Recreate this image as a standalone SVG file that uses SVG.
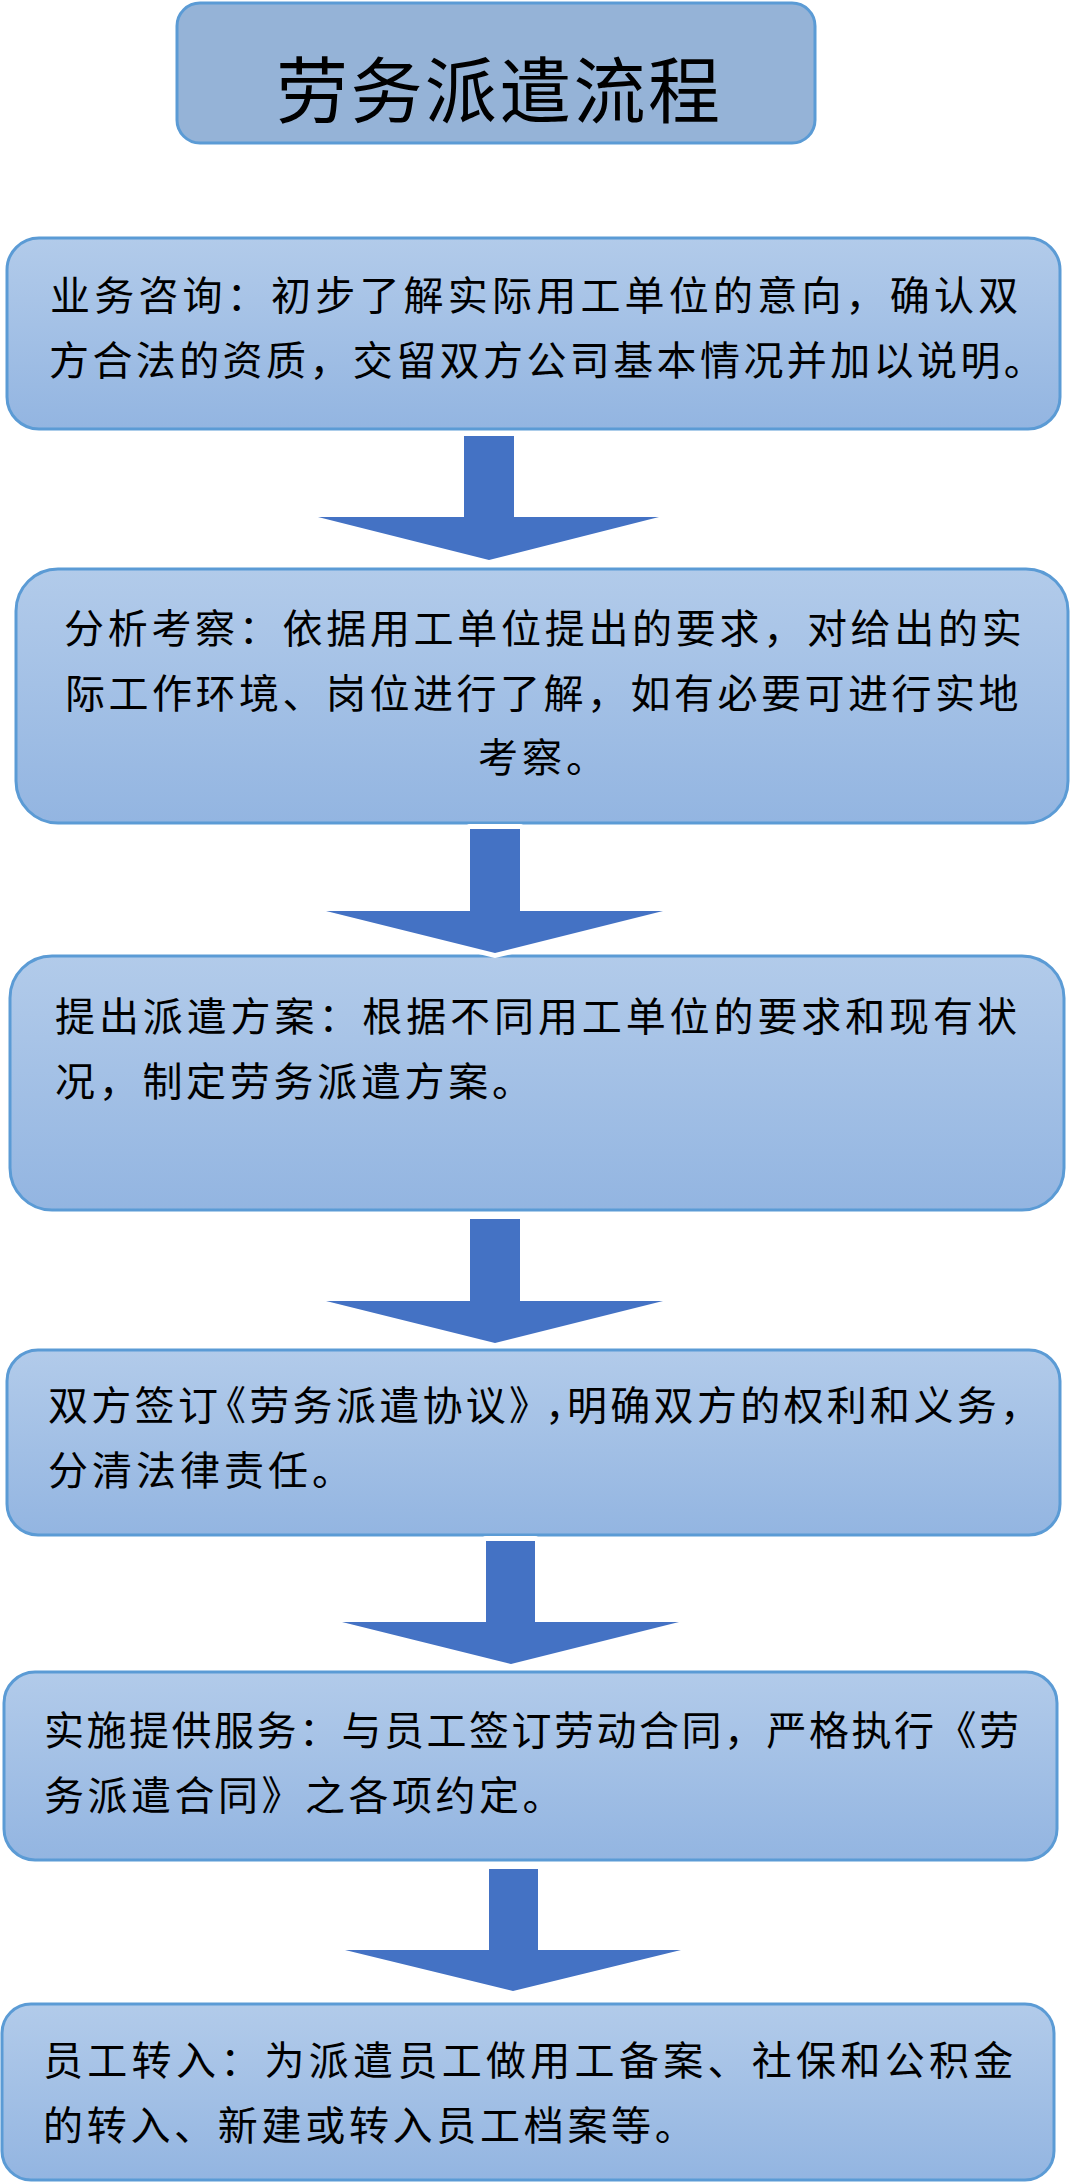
<svg xmlns="http://www.w3.org/2000/svg" width="1071" height="2183" viewBox="0 0 1071 2183">
<defs>
<linearGradient id="g" x1="0" y1="0" x2="0" y2="1">
<stop offset="0" stop-color="#B2CBEA"/>
<stop offset="1" stop-color="#93B5E1"/>
</linearGradient>
<style>
.box{fill:url(#g);stroke:#5B9BD5;stroke-width:3}
.title{fill:#95B3D7;stroke:#5B9BD5;stroke-width:3}
.t{font-family:"Noto Sans CJK SC","Noto Sans CJK JP",sans-serif;font-size:40px;fill:#000;text-spacing-trim:space-all}
.tt{font-family:"Noto Sans CJK SC","Noto Sans CJK JP",sans-serif;font-size:72px;fill:#000}
.arr{fill:#4472C4;stroke:#FFFFFF;stroke-width:10;stroke-linejoin:round;paint-order:stroke}
</style>
</defs>
<rect width="1071" height="2183" fill="#FFFFFF"/>
<g id="title">
<rect class="title" x="177" y="3" width="638" height="140" rx="23"/>
<text class="tt" x="276" y="117" style="letter-spacing:2.4px">劳务派遣流程</text>
</g>
<g id="step1">
<rect class="box" x="7" y="238" width="1053" height="191" rx="32"/>
<text class="t" x="50" y="310" style="letter-spacing:4.2px">业务咨询：初步了解实际用工单位的意向，确认双</text>
<text class="t" x="49" y="375" style="letter-spacing:3.4px">方合法的资质，交留双方公司基本情况并加以说明。</text>
</g>
<g id="step2">
<rect class="box" x="16" y="569" width="1052" height="254" rx="42"/>
<text class="t" x="64" y="643" style="letter-spacing:3.7px">分析考察：依据用工单位提出的要求，对给出的实</text>
<text class="t" x="65" y="708" style="letter-spacing:3.5px">际工作环境、岗位进行了解，如有必要可进行实地</text>
<text class="t" x="478" y="772" style="letter-spacing:4px">考察。</text>
</g>
<g id="step3">
<rect class="box" x="10" y="956" width="1054" height="254" rx="42"/>
<text class="t" x="55" y="1031" style="letter-spacing:3.9px">提出派遣方案：根据不同用工单位的要求和现有状</text>
<text class="t" x="55" y="1096" style="letter-spacing:3.7px">况，制定劳务派遣方案。</text>
</g>
<g id="step4">
<rect class="box" x="7" y="1350" width="1053" height="185" rx="31"/>
<text class="t" y="1420" style="letter-spacing:3.3px"><tspan x="48">双方签订</tspan><tspan x="206">《劳务派遣协议》</tspan><tspan x="545">，</tspan><tspan x="567">明确双方的权利和义务，</tspan></text>
<text class="t" x="48" y="1485" style="letter-spacing:4px">分清法律责任。</text>
</g>
<g id="step5">
<rect class="box" x="4" y="1672" width="1053" height="188" rx="31"/>
<text class="t" x="44" y="1745" style="letter-spacing:2.5px">实施提供服务：与员工签订劳动合同，严格执行《劳</text>
<text class="t" x="44" y="1810" style="letter-spacing:3.5px">务派遣合同》之各项约定。</text>
</g>
<g id="step6">
<rect class="box" x="2" y="2004" width="1052" height="176" rx="29"/>
<text class="t" x="43" y="2075" style="letter-spacing:4.3px">员工转入：为派遣员工做用工备案、社保和公积金</text>
<text class="t" x="43" y="2140" style="letter-spacing:3.7px">的转入、新建或转入员工档案等。</text>
</g>
<g id="connectors">
<polygon class="arr" points="464,436 514,436 514,517 659,517 489,560 318,517 464,517"/>
<polygon class="arr" points="470,829 520,829 520,911 663,911 495,953 326,911 470,911"/>
<polygon class="arr" points="470,1219 520,1219 520,1301 663,1301 495,1343 326,1301 470,1301"/>
<polygon class="arr" points="486,1541 535,1541 535,1622 679,1622 511,1664 342,1622 486,1622"/>
<polygon class="arr" points="489,1869 538,1869 538,1950 681,1950 513,1991 345,1950 489,1950"/>
</g>
</svg>
